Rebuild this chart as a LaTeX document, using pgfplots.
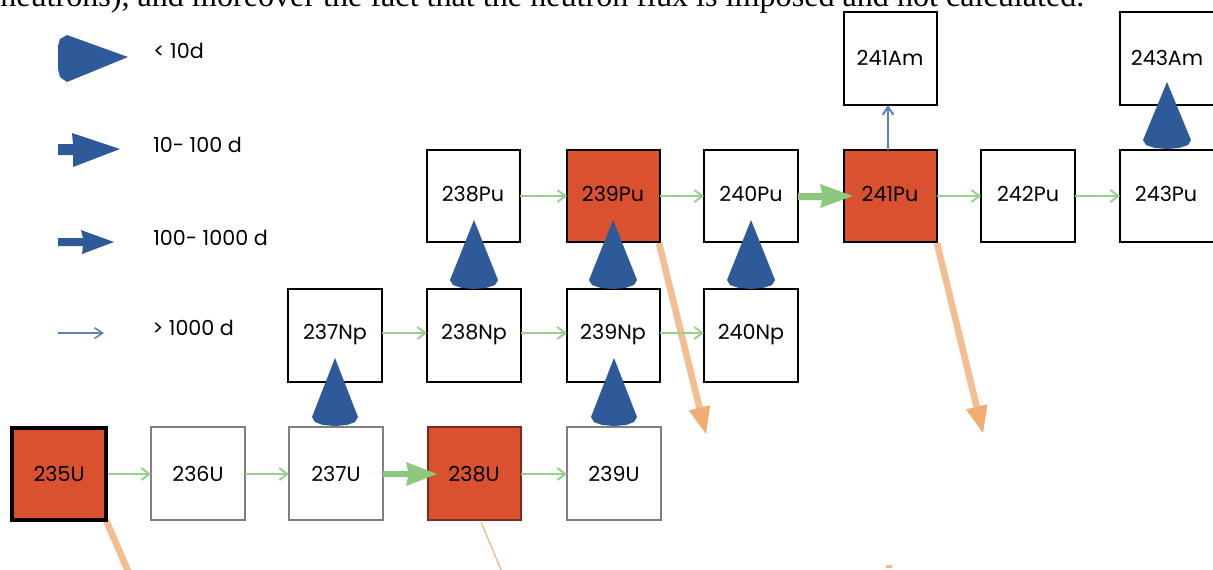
\documentclass[border=0pt]{standalone}
\usepackage{fontspec}
\setmainfont{Poppins}
\newfontfamily\pageserif{Liberation Serif}
\usepackage{graphicx}
\usepackage{pgfplots}
\usepackage{pgfplotstable}
\pgfplotsset{compat=1.18}
\usetikzlibrary{arrows.meta}

\definecolor{boxred}{HTML}{D9512F}
\definecolor{boxgray}{HTML}{808080}
\definecolor{darkred}{HTML}{7A2A1F}
\definecolor{decayblue}{HTML}{2E5A99}
\definecolor{thinblue}{HTML}{5B82BD}
\definecolor{capgreen}{HTML}{9AD08D}
\definecolor{thickgreen}{HTML}{8CC97E}
\definecolor{fisorange}{HTML}{F3B784}
\definecolor{headorange}{HTML}{EFA362}

% label positions (pixels, y down): x = box centre, y = baseline
\pgfplotstableread{
x y name
59 481 235U
198 481 236U
336 481 237U
474 481 238U
614 481 239U
335 339 237Np
474 339 238Np
613 339 239Np
751 339 240Np
473 201 238Pu
613 201 239Pu
751 201 240Pu
890 201 241Pu
1028 201 242Pu
1166 201 243Pu
890 65 241Am
1167 65 243Am
}\isotopes

\pgfplotstableread[col sep=comma]{
x,y,name
153,58,< 10d
153,152,10- 100 d
153,245,100- 1000 d
152,335,> 1000 d
}\legendtext

\begin{document}
\begin{tikzpicture}
\begin{axis}[
    name=main,
    width=909.75pt, height=426.75pt,
    scale only axis,
    xmin=0, xmax=1213,
    ymin=0, ymax=569,
    y dir=reverse,
    hide axis,
    clip=true,
]

% top line of the page text, cut off by the figure
\node[anchor=base west, inner sep=0pt] at (axis cs:0,6)
    {\resizebox{813pt}{!}{\pageserif\fontsize{20}{24}\selectfont neutrons), and moreover the fact that the neutron flux is imposed and not calculated.}};

% orange fission arrows (behind the boxes)
\addplot[fisorange, line width=5pt, opacity=0.9] coordinates {(659,243) (699.5,407.8)};
\addplot[fill=headorange, draw=none, opacity=0.9] coordinates {(706,434) (710.2,405.2) (688.8,410.4)} -- cycle;
\addplot[fisorange, line width=5pt, opacity=0.9] coordinates {(937,243) (976.7,406.8)};
\addplot[fill=headorange, draw=none, opacity=0.9] coordinates {(983,433) (987.4,404.2) (966,409.4)} -- cycle;
\addplot[fisorange, line width=5pt, opacity=0.9] coordinates {(106,520) (134,585)};
\addplot[fisorange, line width=1pt] coordinates {(481,522) (502,572)};
\addplot[fill=fisorange, draw=none] coordinates {(886,565) (892,565) (892,568) (886,568)} -- cycle;

% boxes, Am row
\addplot[draw=black, line width=1.5pt, fill=white] coordinates {(844,12) (937,12) (937,105) (844,105)} -- cycle;
\addplot[draw=black, line width=1.5pt, fill=white] coordinates {(1120,12) (1220,12) (1220,105) (1120,105)} -- cycle;
% Pu row
\addplot[draw=black, line width=1.5pt, fill=white] coordinates {(427,150) (520,150) (520,242) (427,242)} -- cycle;
\addplot[draw=black, line width=1.5pt, fill=boxred] coordinates {(567,150) (660,150) (660,242) (567,242)} -- cycle;
\addplot[draw=black, line width=1.5pt, fill=white] coordinates {(704,150) (798,150) (798,242) (704,242)} -- cycle;
\addplot[draw=black, line width=1.5pt, fill=boxred] coordinates {(844,150) (937,150) (937,242) (844,242)} -- cycle;
\addplot[draw=black, line width=1.5pt, fill=white] coordinates {(981,150) (1075,150) (1075,242) (981,242)} -- cycle;
\addplot[draw=black, line width=1.5pt, fill=white] coordinates {(1120,150) (1220,150) (1220,242) (1120,242)} -- cycle;
% Np row
\addplot[draw=black, line width=1.5pt, fill=white] coordinates {(288,289) (382,289) (382,382) (288,382)} -- cycle;
\addplot[draw=black, line width=1.5pt, fill=white] coordinates {(427,289) (521,289) (521,382) (427,382)} -- cycle;
\addplot[draw=black, line width=1.5pt, fill=white] coordinates {(567,289) (660,289) (660,382) (567,382)} -- cycle;
\addplot[draw=black, line width=1.5pt, fill=white] coordinates {(704,289) (798,289) (798,382) (704,382)} -- cycle;
% U row
\addplot[draw=black, line width=3pt, fill=boxred] coordinates {(12,428) (106,428) (106,520) (12,520)} -- cycle;
\addplot[draw=boxgray, line width=1.5pt, fill=white] coordinates {(151,427) (245,427) (245,520) (151,520)} -- cycle;
\addplot[draw=boxgray, line width=1.5pt, fill=white] coordinates {(289,427) (383,427) (383,520) (289,520)} -- cycle;
\addplot[draw=darkred, line width=1.5pt, fill=boxred] coordinates {(428,427) (521,427) (521,520) (428,520)} -- cycle;
\addplot[draw=boxgray, line width=1.5pt, fill=white] coordinates {(567,427) (661,427) (661,520) (567,520)} -- cycle;

% neutron capture arrows
\addplot[capgreen, line width=1.5pt, -{Straight Barb[length=6pt, width=9pt]}] coordinates {(108,474) (151,474)};
\addplot[capgreen, line width=1.5pt, -{Straight Barb[length=6pt, width=9pt]}] coordinates {(245,474) (289,474)};
\addplot[capgreen, line width=1.5pt, -{Straight Barb[length=6pt, width=9pt]}] coordinates {(521,474) (567,474)};
\addplot[capgreen, line width=1.5pt, -{Straight Barb[length=6pt, width=9pt]}] coordinates {(382,333) (427,333)};
\addplot[capgreen, line width=1.5pt, -{Straight Barb[length=6pt, width=9pt]}] coordinates {(521,333) (567,333)};
\addplot[capgreen, line width=1.5pt, -{Straight Barb[length=6pt, width=9pt]}] coordinates {(660,333) (704,333)};
\addplot[capgreen, line width=1.5pt, -{Straight Barb[length=6pt, width=9pt]}] coordinates {(520,196) (567,196)};
\addplot[capgreen, line width=1.5pt, -{Straight Barb[length=6pt, width=9pt]}] coordinates {(660,196) (704,196)};
\addplot[capgreen, line width=1.5pt, -{Straight Barb[length=6pt, width=9pt]}] coordinates {(937,196) (981,196)};
\addplot[capgreen, line width=1.5pt, -{Straight Barb[length=6pt, width=9pt]}] coordinates {(1075,196) (1120,196)};
\addplot[fill=thickgreen, draw=none] coordinates {(383,471) (408,471) (406,462) (437,474) (406,486) (408,477) (383,477)} -- cycle;
\addplot[fill=thickgreen, draw=none] coordinates {(798,193) (822,193) (820,184) (853,196) (820,208) (822,200) (798,200)} -- cycle;

% beta decay < 10 d
\addplot[fill=decayblue, draw=none] coordinates {(335,358) (358,417) (355,422) (347,425) (335,426) (323,425) (315,422) (312,417)} -- cycle;
\addplot[fill=decayblue, draw=none] coordinates {(614,358) (637,417) (634,422) (626,425) (614,426) (602,425) (594,422) (591,417)} -- cycle;
\addplot[fill=decayblue, draw=none] coordinates {(474,220) (498,280) (495,285) (486,288) (474,289) (462,288) (453,285) (450,280)} -- cycle;
\addplot[fill=decayblue, draw=none] coordinates {(613,220) (637,280) (634,285) (625,288) (613,289) (601,288) (592,285) (589,280)} -- cycle;
\addplot[fill=decayblue, draw=none] coordinates {(751,220) (775,280) (772,285) (763,288) (751,289) (739,288) (730,285) (727,280)} -- cycle;
\addplot[fill=decayblue, draw=none] coordinates {(1167,82) (1191,140) (1188,145) (1179,148) (1167,149) (1155,148) (1146,145) (1143,140)} -- cycle;
% beta decay > 1000 d
\addplot[thinblue, line width=1.5pt, -{Straight Barb[length=6pt, width=8pt]}] coordinates {(888,150) (888,105)};

% legend symbols
\addplot[fill=decayblue, draw=none] coordinates {(67,35) (128,57) (67,82) (60,77) (58,69) (58,46) (60,39)} -- cycle;
\addplot[fill=decayblue, draw=none] coordinates {(58,144) (73,144) (72,133) (120,149) (73,167) (73,155) (58,155)} -- cycle;
\addplot[fill=decayblue, draw=none] coordinates {(58,238) (83,238) (81,230) (114,242) (82,254) (83,246) (58,246)} -- cycle;
\addplot[thinblue, line width=1.2pt, -{Straight Barb[length=6pt, width=8pt]}] coordinates {(58,333) (104,333)};

% text
\addplot[only marks, mark=none, point meta=explicit symbolic, nodes near coords,
    every node near coord/.style={anchor=base, inner sep=0pt, font=\fontsize{15.5}{18}\selectfont}]
    table[x=x, y=y, meta=name] {\isotopes};
\addplot[only marks, mark=none, point meta=explicit symbolic, nodes near coords,
    every node near coord/.style={anchor=base west, inner sep=0pt, font=\fontsize{15.5}{18}\selectfont}]
    table[x=x, y=y, meta=name] {\legendtext};
\end{axis}
\pgfresetboundingbox
\path[use as bounding box] (main.south west) rectangle (main.north east);
\end{tikzpicture}
\end{document}
